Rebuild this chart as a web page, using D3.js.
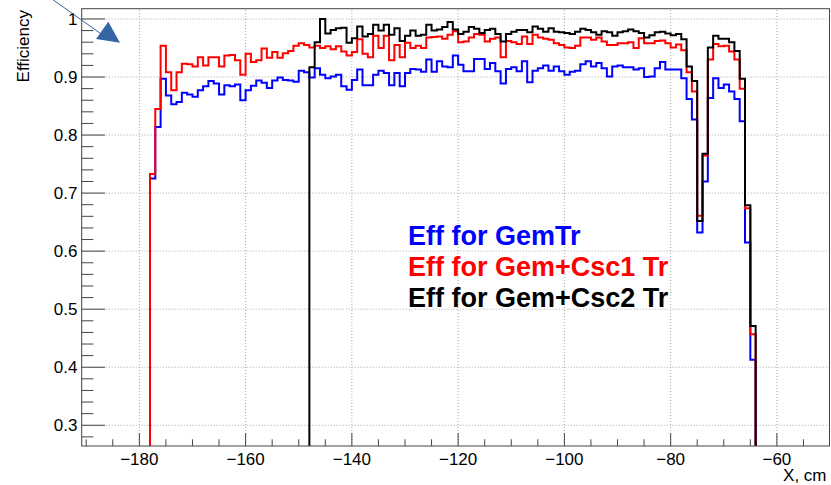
<!DOCTYPE html>
<html>
<head>
<meta charset="utf-8">
<script src="https://cdn.jsdelivr.net/npm/d3@7"></script>
<style>
  html, body { margin: 0; padding: 0; background: #fff; }
  svg { display: block; }
  text { font-family: "Liberation Sans", Arial, Helvetica, sans-serif; }
</style>
</head>
<body>
<svg id="chart" width="831" height="485"></svg>
<script>
// Bin width of the efficiency histograms, cm
const binWidth = 1;

// Efficiency for GemTr, bins from -178 cm
const gemTrStart = -178;
const gemTrEff = [
  0.725,0.814,0.897,0.868,0.853,0.857,0.873,0.870,0.866,0.877,
  0.884,0.893,0.889,0.870,0.886,0.884,0.887,0.860,0.877,0.885,
  0.894,0.890,0.881,0.894,0.899,0.895,0.894,0.892,0.911,0.908,
  0.899,0.915,0.904,0.898,0.901,0.904,0.884,0.878,0.895,0.913,
  0.886,0.886,0.904,0.911,0.907,0.886,0.907,0.884,0.907,0.914,
  0.913,0.909,0.930,0.909,0.927,0.918,0.917,0.937,0.921,0.910,
  0.910,0.931,0.931,0.914,0.924,0.910,0.889,0.914,0.917,0.910,
  0.927,0.891,0.911,0.915,0.920,0.911,0.918,0.910,0.904,0.909,
  0.911,0.922,0.927,0.918,0.924,0.915,0.901,0.918,0.920,0.917,
  0.917,0.913,0.915,0.900,0.901,0.915,0.926,0.913,0.913,0.913,
  0.898,0.862,0.827,0.632,0.720,0.864,0.898,0.881,0.887,0.875,
  0.862,0.824,0.615,0.413
];

// Efficiency for Gem+Csc1 Tr, bins from -178 cm
const gemCsc1Start = -178;
const gemCsc1Eff = [
  0.733,0.845,0.954,0.908,0.877,0.908,0.923,0.922,0.918,0.934,
  0.920,0.934,0.934,0.918,0.937,0.938,0.929,0.904,0.940,0.926,
  0.929,0.949,0.933,0.943,0.933,0.941,0.945,0.954,0.958,0.955,
  0.951,0.954,0.950,0.953,0.948,0.953,0.944,0.937,0.943,0.965,
  0.940,0.934,0.971,0.950,0.971,0.929,0.955,0.934,0.959,0.950,
  0.954,0.950,0.968,0.969,0.970,0.966,0.973,0.979,0.960,0.961,
  0.968,0.974,0.973,0.961,0.966,0.968,0.934,0.962,0.960,0.957,
  0.970,0.957,0.973,0.968,0.966,0.964,0.958,0.955,0.951,0.950,
  0.954,0.968,0.968,0.964,0.968,0.961,0.955,0.955,0.958,0.958,
  0.960,0.950,0.967,0.958,0.958,0.962,0.963,0.958,0.951,0.956,
  0.946,0.908,0.875,0.661,0.765,0.930,0.957,0.953,0.954,0.944,
  0.930,0.880,0.674,0.457
];

// Efficiency for Gem+Csc2 Tr, bins from -148 cm
const gemCsc2Start = -148;
const gemCsc2Eff = [
  0.917,0.960,1.000,0.975,0.981,0.984,0.985,0.959,0.967,0.987,
  0.970,0.974,0.990,0.980,0.990,0.973,0.984,0.962,0.971,0.980,
  0.971,0.973,0.990,0.980,0.982,0.986,0.995,0.982,0.974,0.978,
  0.986,0.983,0.976,0.981,0.983,0.974,0.961,0.974,0.978,0.981,
  0.981,0.977,0.987,0.983,0.978,0.984,0.978,0.977,0.976,0.974,
  0.978,0.983,0.981,0.977,0.973,0.979,0.977,0.971,0.977,0.979,
  0.982,0.979,0.976,0.968,0.972,0.977,0.978,0.975,0.972,0.974,
  0.965,0.918,0.893,0.652,0.768,0.951,0.971,0.966,0.966,0.960,
  0.945,0.897,0.679,0.471
];

// Axis ticks
const xMajorTicks = [-180, -160, -140, -120, -100, -80, -60];
const xMinorTicks = [-190,-185,-175,-170,-165,-155,-150,-145,-135,-130,-125,-115,-110,-105,-95,-90,-85,-75,-70,-65,-55];
const yMajorTicks = [0.3, 0.4, 0.5, 0.6, 0.7, 0.8, 0.9, 1.0];
const yMajorLabels = ["0.3", "0.4", "0.5", "0.6", "0.7", "0.8", "0.9", "1"];
const yMinorTicks = [0.28,0.32,0.34,0.36,0.38,0.42,0.44,0.46,0.48,0.52,0.54,0.56,0.58,
                     0.62,0.64,0.66,0.68,0.72,0.74,0.76,0.78,0.82,0.84,0.86,0.88,0.92,0.94,0.96,0.98];

const legendLabels = ["Eff for GemTr", "Eff for Gem+Csc1 Tr", "Eff for Gem+Csc2 Tr"];
const seriesColors = ["#0000ff", "#ff0000", "#000000"];

// ---- layout ----
const frame = { left: 81.7, right: 829.5, top: 8.7, bottom: 446 };
const x = d3.scaleLinear().domain([-190.85, -50.1]).range([frame.left, frame.right]);
const y = d3.scaleLinear().domain([0.2643, 1.0177]).range([frame.bottom, frame.top]);

const svg = d3.select("#chart");
svg.append("rect").attr("width", 831).attr("height", 485).attr("fill", "#fff");

// grid
const grid = svg.append("g").attr("stroke", "#a8a8a8").attr("stroke-width", 1)
  .attr("stroke-dasharray", "1,2").attr("fill", "none");
grid.selectAll("line.gx").data(xMajorTicks).join("line")
  .attr("class", "gx")
  .attr("x1", d => x(d)).attr("x2", d => x(d))
  .attr("y1", frame.bottom).attr("y2", frame.top);
grid.selectAll("line.gy").data(yMajorTicks).join("line")
  .attr("class", "gy")
  .attr("x1", frame.left).attr("x2", frame.right)
  .attr("y1", d => y(d)).attr("y2", d => y(d));

// histograms drawn as step outlines
const step = d3.line().x(d => x(d[0])).y(d => y(d[1])).curve(d3.curveStepAfter);
function outline(start, vals) {
  const bottom = y.domain()[0];
  const pts = [[start, bottom]];
  vals.forEach((v, i) => pts.push([start + i * binWidth, v]));
  pts.push([start + vals.length * binWidth, bottom]);
  return pts;
}
const series = [
  { start: gemTrStart, vals: gemTrEff },
  { start: gemCsc1Start, vals: gemCsc1Eff },
  { start: gemCsc2Start, vals: gemCsc2Eff }
];
svg.append("clipPath").attr("id", "plotClip").append("rect")
  .attr("x", frame.left).attr("y", frame.top)
  .attr("width", frame.right - frame.left).attr("height", frame.bottom - frame.top);
svg.append("g").attr("clip-path", "url(#plotClip)")
  .selectAll("path").data(series).join("path")
  .attr("d", d => step(outline(d.start, d.vals)))
  .attr("fill", "none")
  .attr("stroke", (d, i) => seriesColors[i])
  .attr("stroke-width", 2)
  .attr("stroke-linejoin", "miter");

// frame
svg.append("rect")
  .attr("x", frame.left).attr("y", frame.top)
  .attr("width", frame.right - frame.left).attr("height", frame.bottom - frame.top)
  .attr("fill", "none").attr("stroke", "#444").attr("stroke-width", 1);

// ticks
const ticks = svg.append("g").attr("stroke", "#444").attr("stroke-width", 1);
ticks.selectAll("line.xM").data(xMajorTicks).join("line").attr("class", "xM")
  .attr("x1", d => x(d)).attr("x2", d => x(d))
  .attr("y1", frame.bottom).attr("y2", frame.bottom - 13);
ticks.selectAll("line.xm").data(xMinorTicks).join("line").attr("class", "xm")
  .attr("x1", d => x(d)).attr("x2", d => x(d))
  .attr("y1", frame.bottom).attr("y2", frame.bottom - 6.7);
ticks.selectAll("line.yM").data(yMajorTicks).join("line").attr("class", "yM")
  .attr("x1", frame.left).attr("x2", frame.left + 23.3)
  .attr("y1", d => y(d)).attr("y2", d => y(d));
ticks.selectAll("line.ym").data(yMinorTicks).join("line").attr("class", "ym")
  .attr("x1", frame.left).attr("x2", frame.left + 11.7)
  .attr("y1", d => y(d)).attr("y2", d => y(d));

// tick labels
svg.append("g").selectAll("text").data(xMajorTicks).join("text")
  .attr("x", d => x(d)).attr("y", 465)
  .attr("text-anchor", "middle").attr("font-size", 17).attr("fill", "#000")
  .text(d => (d < 0 ? "\u2212" : "") + Math.abs(d));
svg.append("g").selectAll("text").data(yMajorTicks).join("text")
  .attr("x", 77.5).attr("y", d => y(d) + 6)
  .attr("text-anchor", "end").attr("font-size", 17).attr("fill", "#000")
  .text((d, i) => yMajorLabels[i]);

// axis titles
svg.append("text").attr("x", 826.5).attr("y", 481)
  .attr("text-anchor", "end").attr("font-size", 17).text("X, cm");
svg.append("text").attr("transform", "translate(28.5,10) rotate(-90)")
  .attr("text-anchor", "end").attr("font-size", 17).text("Efficiency");

// legend
svg.append("g").selectAll("text").data(legendLabels).join("text")
  .attr("x", 408).attr("y", (d, i) => 245 + i * 31)
  .attr("font-size", 27).attr("font-weight", "bold")
  .attr("fill", (d, i) => seriesColors[i])
  .text(d => d);

// pointer arrow in the upper-left corner
const arrowColor = "#3565a5";
svg.append("line").attr("x1", 40).attr("y1", -9.5).attr("x2", 104).attr("y2", 36)
  .attr("stroke", arrowColor).attr("stroke-width", 1);
svg.append("path").attr("d", "M108.3,21.7 L96,39 L120,42.7 Z").attr("fill", arrowColor);
</script>
</body>
</html>
